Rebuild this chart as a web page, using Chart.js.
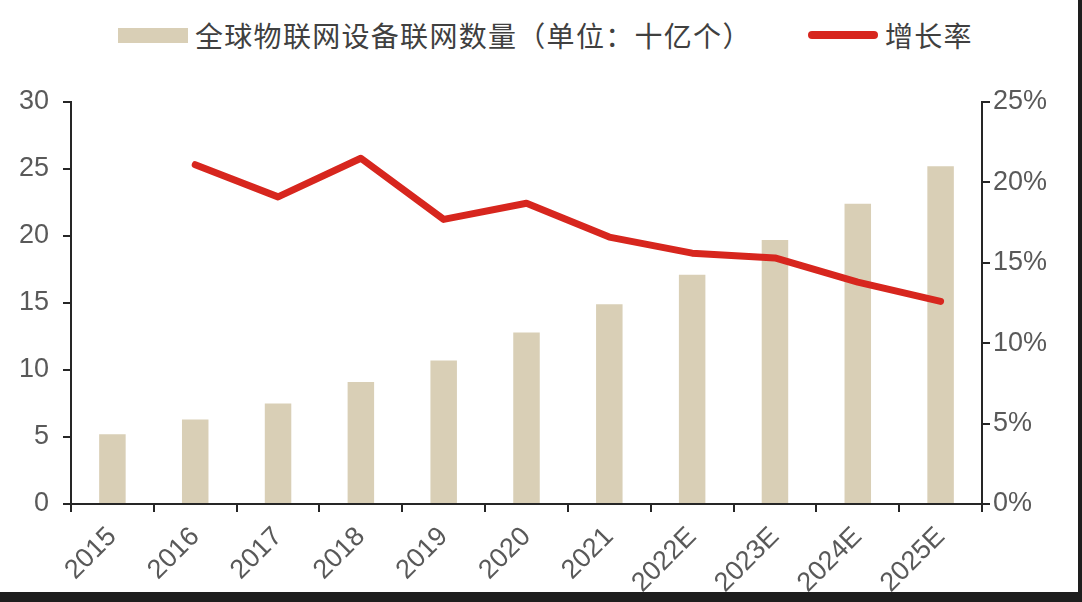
<!DOCTYPE html>
<html>
<head>
<meta charset="utf-8">
<script src="https://cdn.jsdelivr.net/npm/chart.js@4"></script>
<style>
  body { margin: 0; background: #fff; width: 1082px; height: 602px; overflow: hidden; position: relative; font-family: "Noto Sans CJK SC", "Liberation Sans", sans-serif; }
  #chart { position: absolute; left: 0; top: 0; }
  .legend { position: absolute; top: 15px; height: 40px; display: flex; align-items: center; color: #404040; font-size: 28px; letter-spacing: 1.3px; }
  .swatch-bar { width: 70px; height: 15px; background: #d9cfb6; margin-right: 7px; }
  .swatch-line { width: 70px; height: 8px; border-radius: 4px; background: #d7261e; margin-right: 7px; }
  .frame-b { position: absolute; left: 0; bottom: 0; width: 1082px; height: 10px; background: #1e1e1e; }
  .frame-r { position: absolute; right: 0; top: 0; width: 4px; height: 602px; background: #1e1e1e; }
</style>
</head>
<body>
<div class="legend" style="left:118px"><div class="swatch-bar"></div>全球物联网设备联网数量（单位：十亿个）</div>
<div class="legend" style="left:808px"><div class="swatch-line"></div>增长率</div>
<canvas id="chart" width="1082" height="602"></canvas>
<div class="frame-b"></div>
<div class="frame-r"></div>
<script>
const years = ['2015', '2016', '2017', '2018', '2019', '2020', '2021', '2022E', '2023E', '2024E', '2025E'];
const devices = [5.2, 6.3, 7.5, 9.1, 10.7, 12.8, 14.9, 17.1, 19.7, 22.4, 25.2];
const growth = [null, 21.1, 19.1, 21.5, 17.7, 18.7, 16.6, 15.6, 15.3, 13.8, 12.6];

const tickFont = { family: '"Liberation Sans", Arial, sans-serif', size: 27 };
const tickColor = '#595959';
const axisColor = '#262626';

const ctx = document.getElementById('chart').getContext('2d');
new Chart(ctx, {
    type: 'bar',
    data: {
        labels: years,
        datasets: [{
            type: 'line',
            label: '增长率',
            data: growth,
            yAxisID: 'y1',
            borderColor: '#d7261e',
            borderWidth: 7,
            pointRadius: 0,
            borderCapStyle: 'round',
            borderJoinStyle: 'round',
            fill: false,
            tension: 0,
            order: 0
        }, {
            label: '全球物联网设备联网数量（单位：十亿个）',
            data: devices,
            yAxisID: 'y',
            backgroundColor: '#d9cfb6',
            categoryPercentage: 1,
            barPercentage: 0.32,
            order: 1
        }]
    },
    options: {
        responsive: false,
        animation: false,
        layout: { padding: { top: 102, left: 0, right: 0, bottom: 0 } },
        plugins: {
            legend: { display: false },
            tooltip: { enabled: false }
        },
        scales: {
            x: {
                grid: { drawOnChartArea: false, drawTicks: true, tickLength: 8, color: axisColor, lineWidth: 2 },
                border: { display: true, color: axisColor, width: 2 },
                ticks: { color: tickColor, font: tickFont, minRotation: 45, maxRotation: 45, padding: 9 },
                afterFit: function (scale) { scale.height = 98; }
            },
            y: {
                position: 'left',
                min: 0,
                max: 30,
                ticks: { stepSize: 5, color: tickColor, font: tickFont, padding: 14 },
                grid: { drawOnChartArea: false, drawTicks: true, tickLength: 8, color: axisColor, lineWidth: 2 },
                border: { display: true, color: axisColor, width: 2 },
                afterFit: function (scale) { scale.width = 71; }
            },
            y1: {
                position: 'right',
                min: 0,
                max: 25,
                ticks: {
                    stepSize: 5, color: tickColor, font: tickFont, padding: 3,
                    callback: function (value) { return value + '%'; }
                },
                grid: { drawOnChartArea: false, drawTicks: true, tickLength: 8, color: axisColor, lineWidth: 2 },
                border: { display: true, color: axisColor, width: 2 },
                afterFit: function (scale) { scale.width = 100; }
            }
        }
    }
});
</script>
</body>
</html>
